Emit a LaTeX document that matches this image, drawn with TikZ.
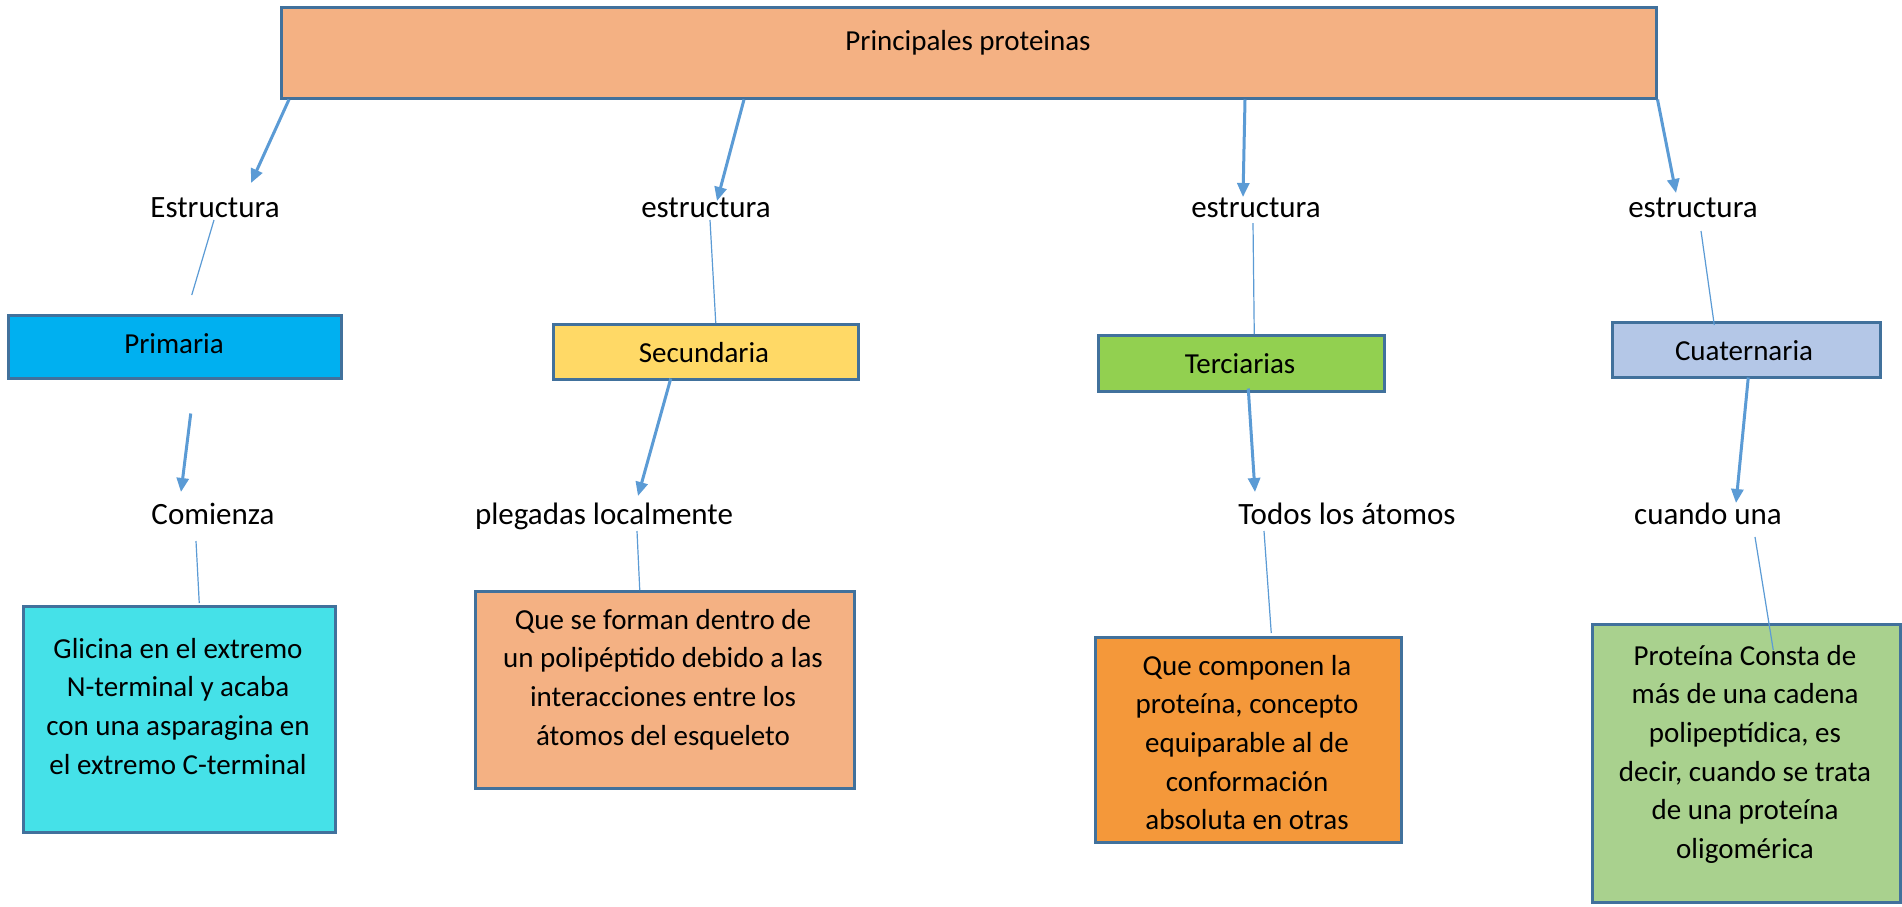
\documentclass[tikz,border=0pt]{standalone}
\usepackage{fontspec}
\setmainfont{Carlito}
\usetikzlibrary{arrows.meta,calc}
\definecolor{bord}{HTML}{41719C}
\definecolor{lnk}{HTML}{5B9BD5}
\definecolor{cmain}{HTML}{F4B183}
\definecolor{cprim}{HTML}{00B0F0}
\definecolor{csec}{HTML}{FFD966}
\definecolor{cter}{HTML}{92D050}
\definecolor{ccua}{HTML}{B4C7E7}
\definecolor{ccyan}{HTML}{45E1E8}
\definecolor{corange}{HTML}{F4983A}
\definecolor{cgreen}{HTML}{A9D18E}
\newcommand{\ml}[1]{\begin{tabular}[t]{@{}c@{}}#1\end{tabular}}
\begin{document}
\begin{tikzpicture}[x=1pt,y=-1pt,
  box/.style={draw=bord,line width=2.5pt,anchor=north west,inner sep=0pt},
  lab/.style={font=\fontsize{31}{38}\selectfont,anchor=base,inner sep=0pt},
  btxt/.style={font=\fontsize{29}{38.7}\selectfont,anchor=base,inner sep=0pt},
  arr/.style={draw=lnk,line width=3pt,-{Triangle[length=14pt,width=12pt]}},
  thinln/.style={draw=lnk,line width=1.2pt}]
\fill[white] (0,0) rectangle (1902,906);
\useasboundingbox (0,0) rectangle (1902,906);

% boxes
\node[box,fill=cmain,minimum width=1375pt,minimum height=91pt] (main) at (280,6) {};
\node[box,fill=cprim,minimum width=333pt,minimum height=63pt] (prim) at (7,314) {};
\node[box,fill=csec,minimum width=305pt,minimum height=55pt] (sec) at (552,323) {};
\node[box,fill=cter,minimum width=286pt,minimum height=56pt] (ter) at (1097,334) {};
\node[box,fill=ccua,minimum width=268pt,minimum height=55pt] (cua) at (1611,321) {};
\node[box,fill=ccyan,minimum width=312pt,minimum height=226pt] (b1) at (22,605) {};
\node[box,fill=cmain,minimum width=379pt,minimum height=197pt] (b2) at (474,590) {};
\node[box,fill=corange,minimum width=306pt,minimum height=205pt] (b3) at (1094,636) {};
\node[box,fill=cgreen,minimum width=308pt,minimum height=278pt] (b4) at (1591,623) {};

% texts
\node[btxt] (title) at (968,50) {Principales proteinas};
\node[lab] (e1) at (215,217) {Estructura};
\node[lab] (e2) at (706,217) {estructura};
\node[lab] (e3) at (1256,217) {estructura};
\node[lab] (e4) at (1693,217) {estructura};
\node[btxt] (tprim) at (174,353) {Primaria};
\node[btxt] (tsec) at (704,362) {Secundaria};
\node[btxt] (tter) at (1240,373) {Terciarias};
\node[btxt] (tcua) at (1744,360) {Cuaternaria};
\node[lab] (r1) at (213,524) {Comienza};
\node[lab] (r2) at (604,524) {plegadas localmente};
\node[lab] (r3) at (1347,524) {Todos los átomos};
\node[lab] (r4) at (1708,524) {cuando una};
\node[btxt] (t1) at (178,658) {\ml{Glicina en el extremo\\N-terminal y acaba\\con una asparagina en\\el extremo C-terminal}};
\node[btxt] (t2) at (663,629) {\ml{Que se forman dentro de\\un polipéptido debido a las\\interacciones entre los\\átomos del esqueleto}};
\node[btxt] (t3) at (1247,675) {\ml{Que componen la\\proteína, concepto\\equiparable al de\\conformación\\absoluta en otras}};
\node[btxt] (t4) at (1745,665) {\ml{Proteína Consta de\\más de una cadena\\polipeptídica, es\\decir, cuando se trata\\de una proteína\\oligomérica}};

% arrows from main box
\draw[arr] ([xshift=9pt]main.south west) -- ([shift={(36,-34)}]e1.base);
\draw[arr] ([xshift=464pt]main.south west) -- ([shift={(11,-16)}]e2.base);
\draw[arr] ([xshift=965pt]main.south west) -- ([shift={(-13,-20)}]e3.base);
\draw[arr] (main.south east) -- ([shift={(-17,-24)}]e4.base);

% thin lines labels -> boxes
\draw[thinln] ([shift={(-1,3)}]e1.base) -- ([shift={(17,-19)}]prim.north);
\draw[thinln] ([shift={(4,3)}]e2.base) -- ([shift={(10,0)}]sec.north);
\draw[thinln] ([shift={(-3,6)}]e3.base) -- ([shift={(13,0)}]ter.north);
\draw[thinln] ([shift={(8,14)}]e4.base) -- ([shift={(-32,4)}]cua.north);

% arrows boxes -> second labels
\draw[arr] ([shift={(16,34)}]prim.south) -- ([shift={(-32,-32)}]r1.base);
\draw[arr] ([shift={(-35,-2)}]sec.south) -- ([shift={(34,-28)}]r2.base);
\draw[arr] ([shift={(7,-4)}]ter.south) -- ([shift={(-92,-32)}]r3.base);
\draw[arr] ([shift={(2,-1)}]cua.south) -- ([shift={(28,-21)}]r4.base);

% thin lines second labels -> bottom boxes
\draw[thinln] ([shift={(-17,17)}]r1.base) -- ([shift={(20,-2)}]b1.north);
\draw[thinln] ([shift={(33,7)}]r2.base) -- ([shift={(-25,0)}]b2.north);
\draw[thinln] ([shift={(-83,7)}]r3.base) -- ([shift={(23,-3)}]b3.north);
\draw[thinln] ([shift={(47,13)}]r4.base) -- ([shift={(27,27)}]b4.north);
\end{tikzpicture}
\end{document}
